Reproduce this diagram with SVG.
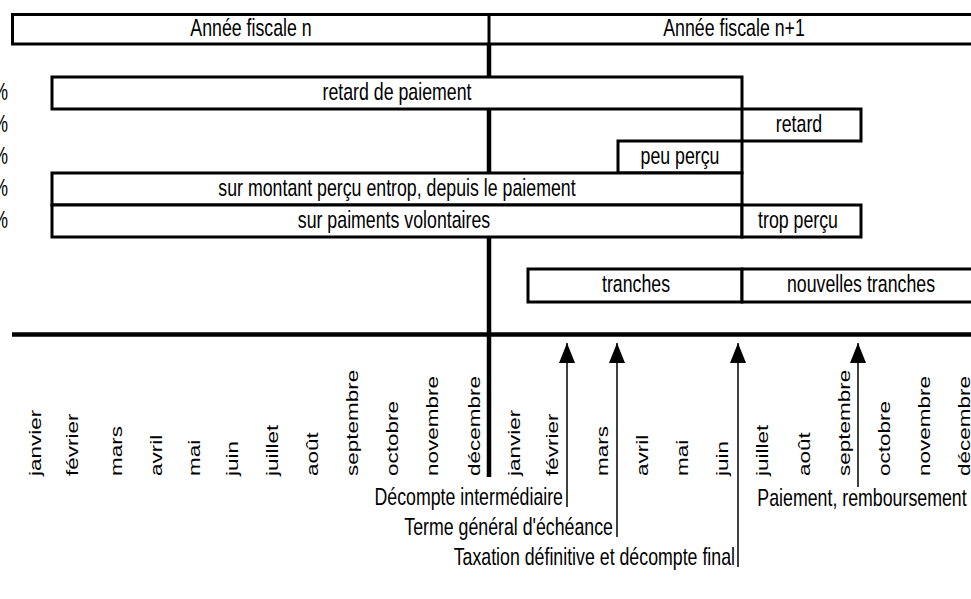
<svg xmlns="http://www.w3.org/2000/svg" width="971" height="599" viewBox="0 0 971 599">
<style>
text{font-family:"Liberation Sans",Arial,sans-serif;fill:#000}
.t{font-size:24px;text-anchor:middle}
.te{font-size:24px;text-anchor:end}
.m{font-size:22.5px;text-anchor:start}
.box{fill:#fff;stroke:#000;stroke-width:3}
.thick{stroke:#000;stroke-width:4.5;fill:none}
.ar{stroke:#000;stroke-width:1.5;fill:none}
</style>
<defs>
<marker id="ah" viewBox="0 0 20 16" refX="20" refY="8" markerWidth="20" markerHeight="16" markerUnits="userSpaceOnUse" orient="auto">
<path d="M0,0 L20,8 L0,16 z" fill="#000"/>
</marker>
</defs>
<rect width="971" height="599" fill="#fff"/>
<g id="axes">
<line class="thick" x1="489" y1="45" x2="489" y2="477"/>
<line class="thick" x1="12" y1="334.5" x2="975" y2="334.5"/>
</g>
<g id="header">
<rect class="box" x="12.5" y="14.5" width="965" height="29.5"/>
<line x1="489" y1="13" x2="489" y2="45" stroke="#000" stroke-width="3"/>
<text class="t" transform="translate(251,36) scale(0.74,1)">Année fiscale n</text>
<text class="t" transform="translate(734,36) scale(0.74,1)">Année fiscale n+1</text>
</g>
<g id="pct">
<text class="te" transform="translate(8,100) scale(0.74,1)">%</text>
<text class="te" transform="translate(8,132) scale(0.74,1)">%</text>
<text class="te" transform="translate(8,164) scale(0.74,1)">%</text>
<text class="te" transform="translate(8,196) scale(0.74,1)">%</text>
<text class="te" transform="translate(8,228) scale(0.74,1)">%</text>
</g>
<g id="n-retard-paiement">
<rect class="box" x="52" y="77" width="690" height="32"/>
<text class="t" transform="translate(397,100) scale(0.74,1)">retard de paiement</text>
</g>
<g id="n-retard">
<rect class="box" x="742" y="109" width="119" height="32"/>
<text class="t" transform="translate(799,132) scale(0.74,1)">retard</text>
</g>
<g id="n-peu-percu">
<rect class="box" x="618" y="141" width="124" height="32"/>
<text class="t" transform="translate(680,164) scale(0.74,1)">peu perçu</text>
</g>
<g id="n-sur-montant">
<rect class="box" x="52" y="173" width="690" height="32"/>
<text class="t" transform="translate(397,196) scale(0.74,1)">sur montant perçu entrop, depuis le paiement</text>
</g>
<g id="n-sur-paiments">
<rect class="box" x="52" y="205" width="690" height="32"/>
<text class="t" transform="translate(394,228) scale(0.74,1)">sur paiments volontaires</text>
</g>
<g id="n-trop-percu">
<rect class="box" x="742" y="205" width="119" height="32"/>
<text class="t" transform="translate(798,228) scale(0.74,1)">trop perçu</text>
</g>
<g id="n-tranches">
<rect class="box" x="528" y="269" width="214" height="33"/>
<text class="t" transform="translate(636,292) scale(0.74,1)">tranches</text>
</g>
<g id="n-nouvelles-tranches">
<rect class="box" x="742" y="269" width="235" height="33"/>
<text class="t" transform="translate(861,292) scale(0.74,1)">nouvelles tranches</text>
</g>
<g id="months">
<text class="m" transform="translate(41,476) scale(0.74,1) rotate(-90)">janvier</text>
<text class="m" transform="translate(78,476) scale(0.74,1) rotate(-90)">février</text>
<text class="m" transform="translate(122,476) scale(0.74,1) rotate(-90)">mars</text>
<text class="m" transform="translate(162,476) scale(0.74,1) rotate(-90)">avril</text>
<text class="m" transform="translate(200,476) scale(0.74,1) rotate(-90)">mai</text>
<text class="m" transform="translate(238,476) scale(0.74,1) rotate(-90)">juin</text>
<text class="m" transform="translate(278,476) scale(0.74,1) rotate(-90)">juillet</text>
<text class="m" transform="translate(318,476) scale(0.74,1) rotate(-90)">août</text>
<text class="m" transform="translate(358,476) scale(0.74,1) rotate(-90)">septembre</text>
<text class="m" transform="translate(398,476) scale(0.74,1) rotate(-90)">octobre</text>
<text class="m" transform="translate(438,476) scale(0.74,1) rotate(-90)">novembre</text>
<text class="m" transform="translate(480,476) scale(0.74,1) rotate(-90)">décembre</text>
<text class="m" transform="translate(520,476) scale(0.74,1) rotate(-90)">janvier</text>
<text class="m" transform="translate(558,476) scale(0.74,1) rotate(-90)">février</text>
<text class="m" transform="translate(608,476) scale(0.74,1) rotate(-90)">mars</text>
<text class="m" transform="translate(648,476) scale(0.74,1) rotate(-90)">avril</text>
<text class="m" transform="translate(688,476) scale(0.74,1) rotate(-90)">mai</text>
<text class="m" transform="translate(728,476) scale(0.74,1) rotate(-90)">juin</text>
<text class="m" transform="translate(768,476) scale(0.74,1) rotate(-90)">juillet</text>
<text class="m" transform="translate(810,476) scale(0.74,1) rotate(-90)">août</text>
<text class="m" transform="translate(850,476) scale(0.74,1) rotate(-90)">septembre</text>
<text class="m" transform="translate(890,476) scale(0.74,1) rotate(-90)">octobre</text>
<text class="m" transform="translate(930,476) scale(0.74,1) rotate(-90)">novembre</text>
<text class="m" transform="translate(970,476) scale(0.74,1) rotate(-90)">décembre</text>
</g>
<g id="connectors">
<line class="ar" x1="567" y1="507" x2="567" y2="343" marker-end="url(#ah)"/>
<line class="ar" x1="617" y1="537" x2="617" y2="343" marker-end="url(#ah)"/>
<line class="ar" x1="738" y1="567" x2="738" y2="343" marker-end="url(#ah)"/>
<line class="ar" x1="858" y1="487" x2="858" y2="343" marker-end="url(#ah)"/>
</g>
<g id="events">
<text class="te" transform="translate(563,505) scale(0.74,1)">Décompte intermédiaire</text>
<text class="te" transform="translate(613,535) scale(0.74,1)">Terme général d'échéance</text>
<text class="te" transform="translate(735,565) scale(0.74,1)">Taxation définitive et décompte final</text>
<text class="t" transform="translate(862,506) scale(0.74,1)">Paiement, remboursement</text>
</g>
</svg>
